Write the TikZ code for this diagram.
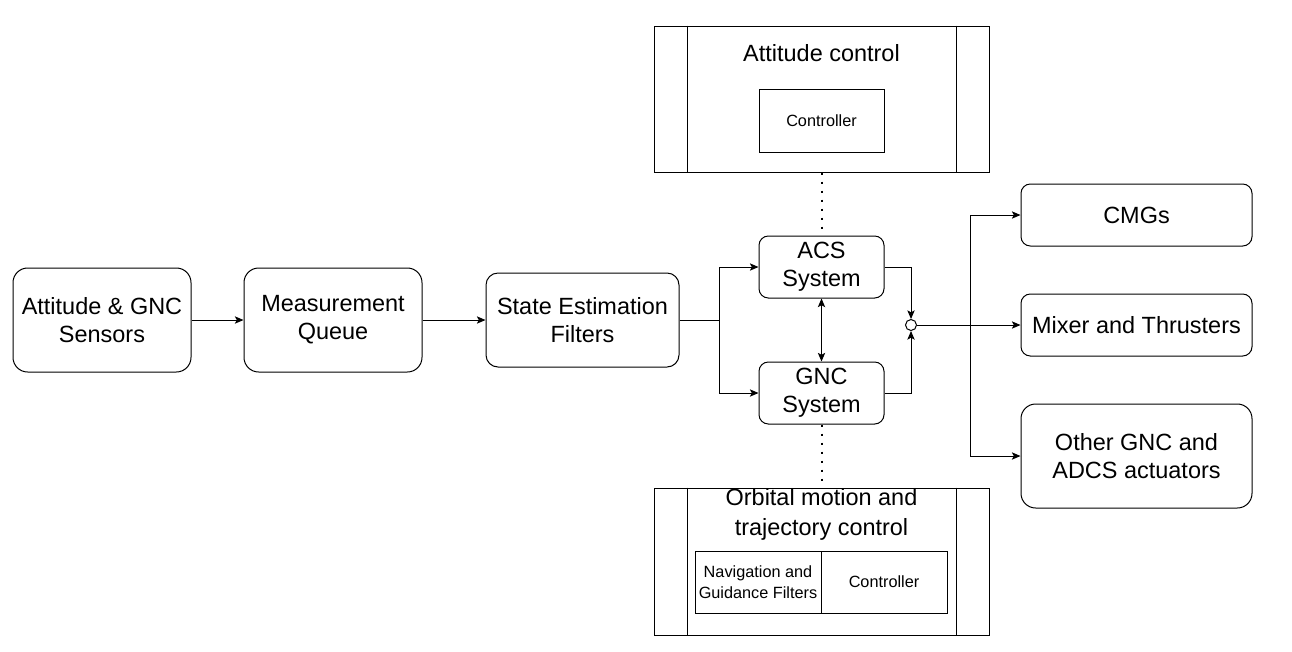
\documentclass[tikz,border=0pt]{standalone}
\usepackage{fontspec}
\setmainfont{Liberation Sans}
\usepackage{tikz}
\usetikzlibrary{arrows, arrows.meta, positioning, calc}
\tikzstyle{arrow} = [line width=0.75pt,->,>={Stealth[length=6.5pt,width=5.5pt,inset=1.5pt]}]
\tikzstyle{block} = [draw, line width=0.75pt, rounded corners=11pt, align=center, font=\fontsize{17.6}{21}\selectfont]
\tikzstyle{small} = [draw, line width=0.75pt, rounded corners=7pt, align=center, font=\fontsize{17.6}{21}\selectfont]
\tikzstyle{frame} = [draw, line width=0.75pt]
\tikzstyle{cell} = [draw, line width=0.75pt, align=center, font=\fontsize{12.2}{15.5}\selectfont]
\tikzstyle{link} = [line width=1.5pt, dash pattern=on 1.5pt off 5.25pt]

\begin{document}
\begin{tikzpicture}[x=0.75pt, y=-0.75pt]
    \useasboundingbox (0,0) rectangle (1292,651);

    % Pipeline
    \node[block, minimum width=133.5pt, minimum height=78pt] (sens) at (102,320) {Attitude \& GNC\\Sensors};
    \node[block, minimum width=133.5pt, minimum height=78pt] (meas) at (333,320) {Measurement\\Queue};
    \node[block, minimum width=144.75pt, minimum height=70.5pt, rounded corners=9pt] (est) at (582.5,320) {State Estimation\\Filters};

    % Systems
    \node[small, minimum width=93.75pt, minimum height=46.5pt] (acs) at (821.5,267) {ACS\\System};
    \node[small, minimum width=93.75pt, minimum height=46.5pt] (gnc) at (821.5,393) {GNC\\System};
    \node[draw, circle, line width=0.75pt, inner sep=0pt, minimum size=8.25pt] (sum) at (911,325) {};

    % Attitude control
    \node[frame, minimum width=251.25pt, minimum height=109.5pt] (att) at (821.5,99) {};
    \draw[line width=0.75pt] ([xshift=25.5pt]att.north west) -- ([xshift=25.5pt]att.south west);
    \draw[line width=0.75pt] ([xshift=-24.75pt]att.north east) -- ([xshift=-24.75pt]att.south east);
    \node[font=\fontsize{17.6}{21}\selectfont] (atttitle) at (821.5,53) {Attitude control};
    \node[cell, minimum width=93.75pt, minimum height=47.25pt] (attctrl) at (821.5,120.5) {Controller};

    % Orbital motion and trajectory control
    \node[frame, minimum width=251.25pt, minimum height=110.25pt] (orb) at (821.5,561.5) {};
    \draw[line width=0.75pt] ([xshift=25.5pt]orb.north west) -- ([xshift=25.5pt]orb.south west);
    \draw[line width=0.75pt] ([xshift=-24.75pt]orb.north east) -- ([xshift=-24.75pt]orb.south east);
    \node[align=center, font=\fontsize{17.6}{22.5}\selectfont] (orbtitle) at (821.5,514) {Orbital motion and\\trajectory control};
    \node[cell, minimum width=94.5pt, minimum height=46.5pt, inner sep=1pt] (nav) at (758,582) {Navigation and\\Guidance Filters};
    \node[cell, minimum width=94.5pt, minimum height=46.5pt] (orbctrl) at (884,582) {Controller};

    % Actuators
    \node[small, minimum width=173.25pt, minimum height=46.5pt] (cmg) at (1136.5,215) {CMGs};
    \node[small, minimum width=173.25pt, minimum height=46.5pt] (mix) at (1136.5,325) {Mixer and Thrusters};
    \node[block, minimum width=173.25pt, minimum height=78pt] (other) at (1136.5,456) {Other GNC and\\ADCS actuators};

    % Connections
    \coordinate (split) at (719,320);
    \coordinate (fork) at (970,325);
    \draw[arrow] (sens) -- (meas);
    \draw[arrow] (meas) -- (est);
    \draw[line width=0.75pt] (est.east) -- (split);
    \draw[arrow] (split) |- (acs.west);
    \draw[arrow] (split) |- (gnc.west);
    \draw[arrow, <->] (acs) -- (gnc);
    \draw[arrow] (acs.east) -| (sum.north);
    \draw[arrow] (gnc.east) -| (sum.south);
    \draw[arrow] (sum.east) -- (mix.west);
    \draw[arrow] (fork) |- (cmg.west);
    \draw[arrow] (fork) |- (other.west);

    % Dotted links
    \draw[link] (att.south) -- (acs.north);
    \draw[link] (gnc.south) -- (orb.north);
\end{tikzpicture}
\end{document}
